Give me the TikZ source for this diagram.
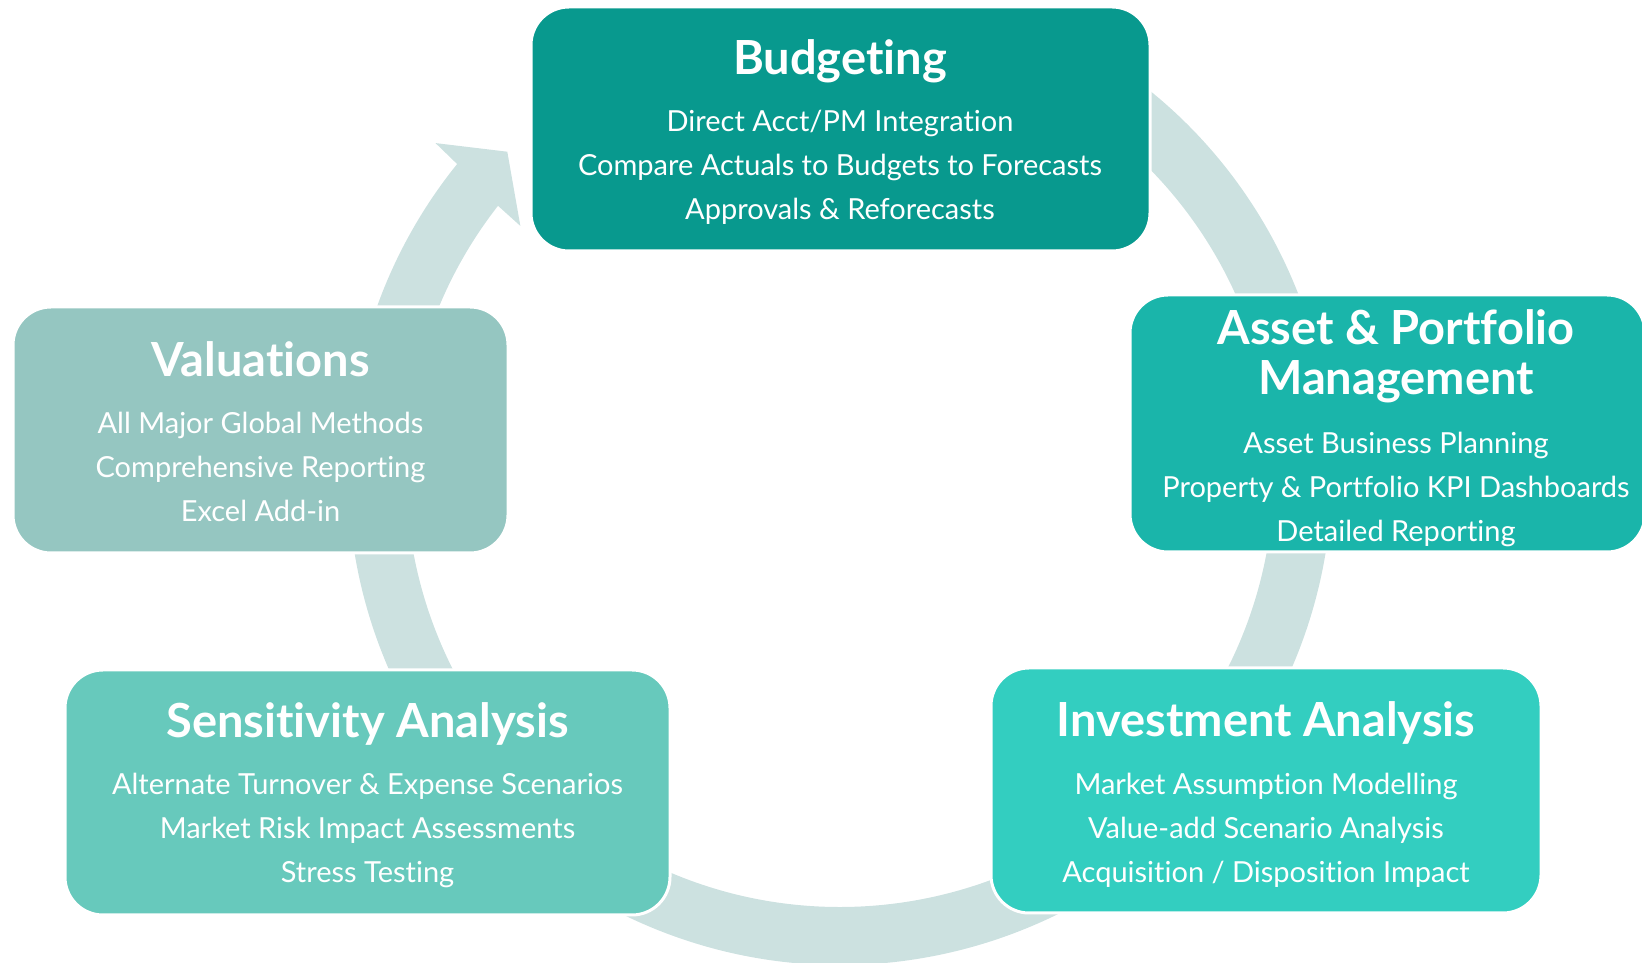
\documentclass[tikz,border=0pt]{standalone}
\usepackage{fontspec}
\setmainfont{Lato}[Ligatures={NoCommon}]
\usetikzlibrary{calc}
\definecolor{budC}{RGB}{8,153,142}
\definecolor{assetC}{RGB}{26,181,170}
\definecolor{valC}{RGB}{149,198,193}
\definecolor{sensC}{RGB}{103,201,188}
\definecolor{invC}{RGB}{51,206,192}
\definecolor{ringC}{RGB}{204,225,224}
\tikzset{
  box/.style={draw=white, line width=3pt, rounded corners=38pt, inner sep=0pt},
  ttl/.style={anchor=base, inner sep=0pt, text=white, font=\fontsize{47}{53}\selectfont\bfseries},
  sub/.style={anchor=base, inner sep=0pt, text=white, font=\fontsize{29}{34}\selectfont},
}
\begin{document}
\begin{tikzpicture}[x=1pt,y=1pt]
\useasboundingbox (0,0) rectangle (1642,963);
\clip (0,0) rectangle (1642,963);
% ring arrow
\coordinate (C) at (840,490);
\begin{scope}[shift={(C)}]
\fill[ringC] (65:492) arc[start angle=65, end angle=-218.9, radius=492]
  -- (140.8:522) -- (136:462.5) -- (142.3:404) -- (142:434)
  arc[start angle=-218, end angle=65, radius=434] -- cycle;
\end{scope}
% boxes
\node[box, fill=budC, minimum width=619pt, minimum height=244pt] (bud) at (840.5,834) {};
\node[box, fill=assetC, minimum width=515pt, minimum height=257pt] (asset) at (1387.5,539.5) {};
\node[box, fill=valC, minimum width=495pt, minimum height=246pt] (val) at (260.5,533) {};
\node[box, fill=sensC, minimum width=605pt, minimum height=245pt] (sens) at (367.5,170.5) {};
\node[box, fill=invC, minimum width=550pt, minimum height=245pt] (inv) at (1266,172.5) {};
% Budgeting
\node[ttl] (budT) at (840,888) {Budgeting};
\node[sub] (bud1) at (840,831) {Direct Acct/PM Integration};
\node[sub] (bud2) at (840,787) {Compare Actuals to Budgets to Forecasts};
\node[sub] (bud3) at (840,743) {Approvals \& Reforecasts};
% Asset
\node[ttl] (assetT1) at (1396,618) {Asset \& Portfolio};
\node[ttl] (assetT2) at (1396,568) {Management};
\node[sub] (asset1) at (1396,509) {Asset Business Planning};
\node[sub] (asset2) at (1396,465) {Property \& Portfolio KPI Dashboards};
\node[sub] (asset3) at (1396,421) {Detailed Reporting};
% Valuations
\node[ttl] (valT) at (260.5,586) {Valuations};
\node[sub] (val1) at (260.5,529) {All Major Global Methods};
\node[sub] (val2) at (260.5,485) {Comprehensive Reporting};
\node[sub] (val3) at (260.5,441) {Excel Add-in};
% Sensitivity
\node[ttl] (sensT) at (367.5,225) {Sensitivity Analysis};
\node[sub] (sens1) at (367.5,168) {Alternate Turnover \& Expense Scenarios};
\node[sub] (sens2) at (367.5,124) {Market Risk Impact Assessments};
\node[sub] (sens3) at (367.5,80) {Stress Testing};
% Investment
\node[ttl] (invT) at (1266,226) {Investment Analysis};
\node[sub] (inv1) at (1266,168) {Market Assumption Modelling};
\node[sub] (inv2) at (1266,124) {Value-add Scenario Analysis};
\node[sub] (inv3) at (1266,80) {Acquisition / Disposition Impact};
\end{tikzpicture}
\end{document}
